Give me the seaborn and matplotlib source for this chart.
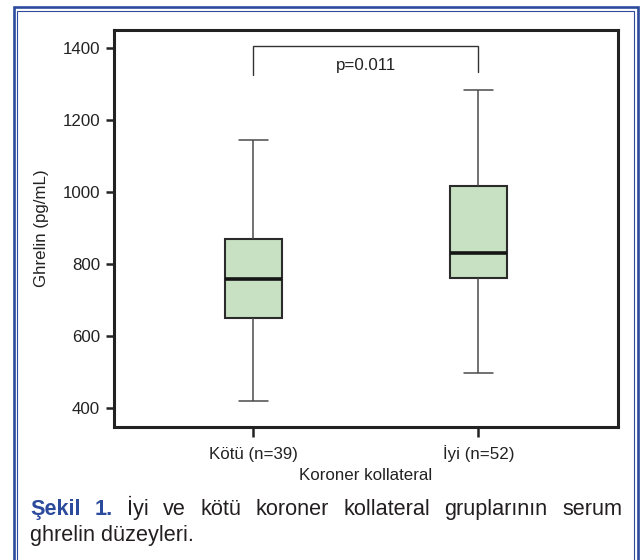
import numpy as np
import pandas as pd
import matplotlib
matplotlib.use("Agg")
import matplotlib.pyplot as plt
import seaborn as sns
from matplotlib.patches import Rectangle

# ---- data (five-number summaries) ----
groups = ["Kötü (n=39)", "İyi (n=52)"]
kotu_summary = [419, 649, 757, 869, 1145]   # min, Q1, median, Q3, max
iyi_summary = [497, 760, 830, 1018, 1283]
yticks = [400, 600, 800, 1000, 1200, 1400]
bracket_left = [1325, 1407]
bracket_right = [1335, 1407]
p_text = "p=0.011"
p_y = 1352

df = pd.DataFrame({
    "group": [groups[0]] * len(kotu_summary) + [groups[1]] * len(iyi_summary),
    "value": kotu_summary + iyi_summary,
})

sns.set_theme(style="white")
plt.rcParams["font.family"] = ["Liberation Sans", "DejaVu Sans"]

W, H = 640, 560
fig = plt.figure(figsize=(W / 100, H / 100), dpi=100)
fig.patch.set_facecolor("white")
ax = fig.add_axes([114 / W, 1 - 427 / H, (618 - 114) / W, (427 - 30) / H])

edge = "#2b2b2b"
sns.boxplot(
    data=df, x="group", y="value", order=groups, ax=ax,
    whis=(0, 100), width=0.25, color="#c8e1c2", saturation=1,
    linecolor=edge, linewidth=1.5,
    medianprops=dict(color="#151515", linewidth=2.6),
    whiskerprops=dict(color="#4a4a4a", linewidth=1.1),
    capprops=dict(color="#4a4a4a", linewidth=1.1),
)

fs = 12.2
ax.set_xlim(-0.62, 1.62)
ax.set_ylim(346, 1451)
ax.set_yticks(yticks)
ax.set_yticklabels([str(t) for t in yticks])
ax.set_ylabel("Ghrelin (pg/mL)", fontsize=fs, color="#222222", labelpad=10)
ax.set_xlabel("Koroner kollateral", fontsize=fs, color="#222222", labelpad=4)

for s in ax.spines.values():
    s.set_visible(True)
    s.set_linewidth(2.2)
    s.set_color("#222222")
ax.tick_params(axis="y", direction="out", length=6, width=1.8, color="#222222",
               labelsize=fs, labelcolor="#222222", pad=4, left=True)
ax.tick_params(axis="x", direction="out", length=7.5, width=1.8, color="#222222",
               labelsize=fs, labelcolor="#222222", pad=15.5, bottom=True)
for lab in ax.get_xticklabels():
    lab.set_verticalalignment("baseline")

# significance bracket
ax.plot([0, 0, 1, 1], [bracket_left[0], bracket_left[1], bracket_right[1], bracket_right[0]],
        color="#333333", linewidth=1.0, solid_joinstyle="miter")
ax.text(0.5, p_y, p_text, ha="center", va="center", fontsize=fs, color="#222222")

# ---- blue double frame ----
blue = "#2d4b9d"
outer = Rectangle((14 / W, -0.1), (637.5 - 14) / W, 1.1 - 6.5 / H,
                  transform=fig.transFigure, fill=False, edgecolor=blue,
                  linewidth=1.9, zorder=10)
inner = Rectangle((17.3 / W, -0.1), (634 - 17.3) / W, 1.1 - 10.5 / H,
                  transform=fig.transFigure, fill=False, edgecolor=blue,
                  linewidth=0.8, zorder=10)
fig.patches.extend([outer, inner])

# ---- caption (justified first line) ----
cap_fs = 15.6
line1 = [("Şekil", True), ("1.", True), ("İyi", False), ("ve", False), ("kötü", False),
         ("koroner", False), ("kollateral", False), ("gruplarının", False), ("serum", False)]
x_left, x_right = 30, 622
y1 = 1 - 515 / H
y2 = 1 - 541 / H
texts = []
for w, bold in line1:
    t = fig.text(0, y1, w, fontsize=cap_fs, va="baseline", ha="left",
                 fontweight="bold" if bold else "normal",
                 color=blue if bold else "#231f20")
    texts.append(t)
renderer = fig.canvas.get_renderer()
widths = [t.get_window_extent(renderer).width for t in texts]
gap = (x_right - x_left - sum(widths)) / (len(texts) - 1)
x = x_left
for t, wd in zip(texts, widths):
    t.set_x(x / W)
    x += wd + gap
fig.text(x_left / W, y2, "ghrelin düzeyleri.", fontsize=cap_fs, va="baseline",
         ha="left", color="#231f20")

fig.savefig("out.png", dpi=100)
